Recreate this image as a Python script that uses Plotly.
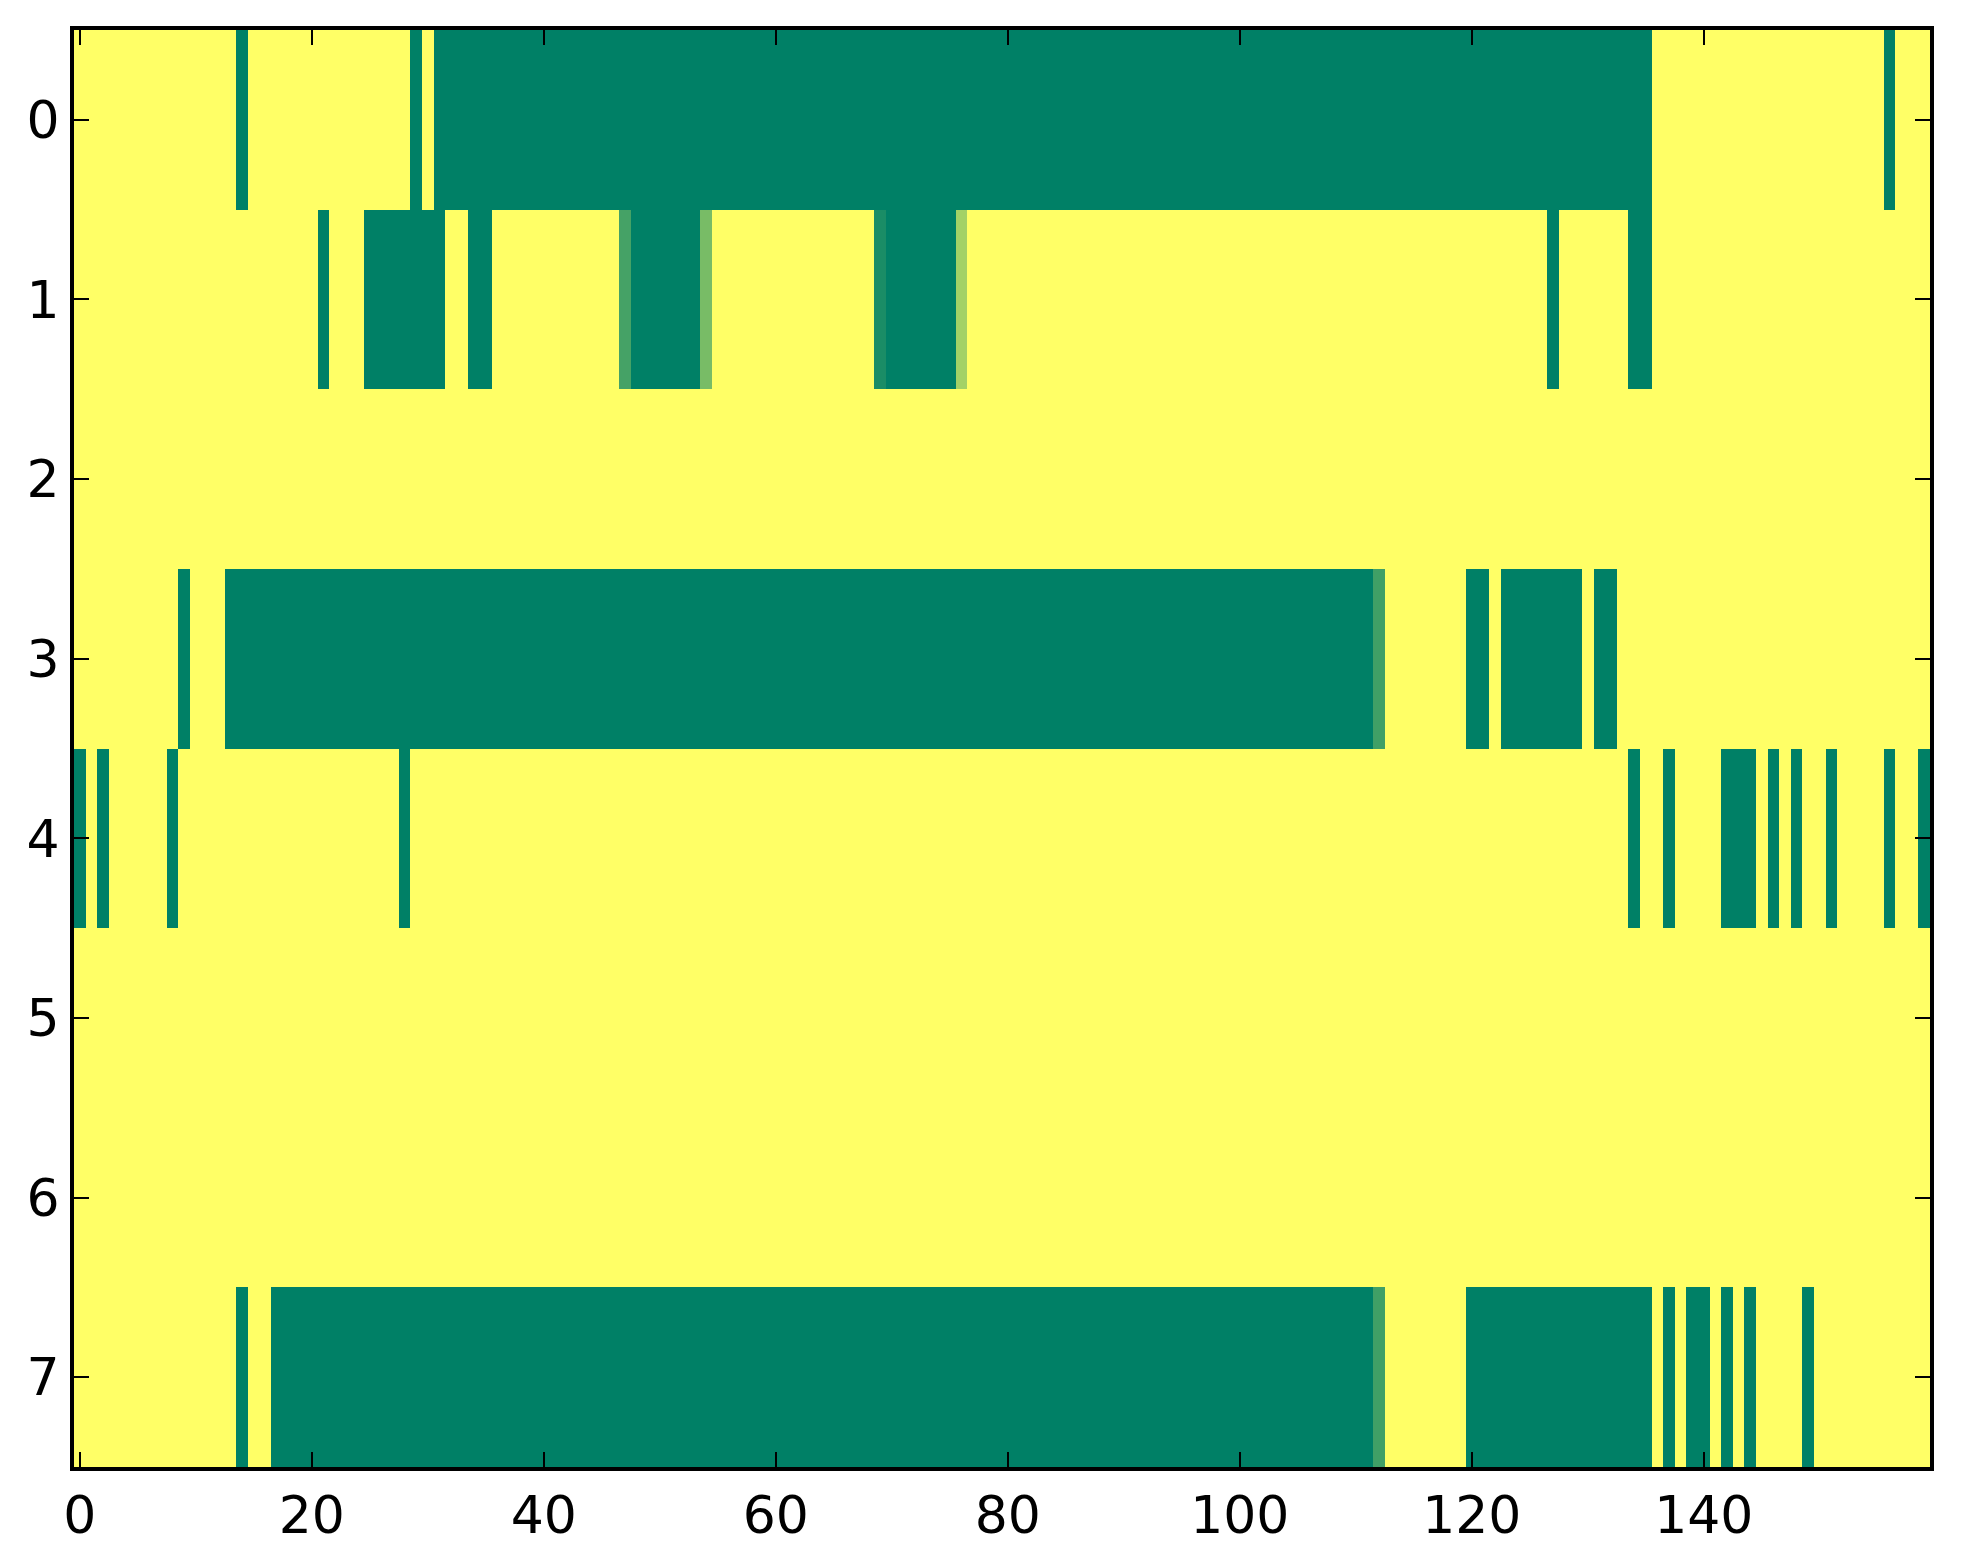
import plotly.graph_objects as go

# each row of the grid, written 10 cells per chunk (160 cells)
# '1' = yellow, '0' = green, letters = in-between shades (see shade_values)
row_0 = ("1111111111" "1111011111" "1111111110" "1000000000"
         "0000000000" "0000000000" "0000000000" "0000000000"
         "0000000000" "0000000000" "0000000000" "0000000000"
         "0000000000" "0000001111" "1111111111" "1111110111")
row_1 = ("1111111111" "1111111111" "1011100000" "0011001111"
         "1111111a00" "0000b11111" "111111111c" "000000d111"
         "1111111111" "1111111111" "1111111111" "1111111111"
         "1111111011" "1111001111" "1111111111" "1111111111")
row_2 = ("1111111111" "1111111111" "1111111111" "1111111111"
         "1111111111" "1111111111" "1111111111" "1111111111"
         "1111111111" "1111111111" "1111111111" "1111111111"
         "1111111111" "1111111111" "1111111111" "1111111111")
row_3 = ("1111111110" "1110000000" "0000000000" "0000000000"
         "0000000000" "0000000000" "0000000000" "0000000000"
         "0000000000" "0000000000" "0000000000" "00e1111111"
         "0010000000" "1001111111" "1111111111" "1111111111")
row_4 = ("0101111101" "1111111111" "1111111101" "1111111111"
         "1111111111" "1111111111" "1111111111" "1111111111"
         "1111111111" "1111111111" "1111111111" "1111111111"
         "1111111111" "1111011011" "1100010101" "1011110110")
row_5 = row_2
row_6 = row_2
row_7 = ("1111111111" "1111011000" "0000000000" "0000000000"
         "0000000000" "0000000000" "0000000000" "0000000000"
         "0000000000" "0000000000" "0000000000" "00e1111111"
         "0000000000" "0000001010" "0101011110" "1111111111")

shade_values = {"0": 0.0, "1": 1.0, "a": 0.27, "b": 0.47, "c": 0.1, "d": 0.64, "e": 0.25}

x_tick_vals = [0, 20, 40, 60, 80, 100, 120, 140]
y_tick_vals = [0, 1, 2, 3, 4, 5, 6, 7]

rows = [row_0, row_1, row_2, row_3, row_4, row_5, row_6, row_7]
z = [[shade_values[ch] for ch in "".join(r)] for r in rows]

# matplotlib "summer" colormap
summer = [[0.0, "rgb(0,128,102)"], [1.0, "rgb(255,255,102)"]]

fig = go.Figure()
fig.add_trace(go.Heatmap(
    z=z,
    colorscale=summer,
    zmin=0,
    zmax=1,
    showscale=False,
    hoverinfo="skip",
))

axis_style = dict(
    ticks="inside",
    ticklen=15,
    tickwidth=2,
    tickcolor="black",
    showline=True,
    linewidth=4,
    linecolor="black",
    mirror="ticks",
    showgrid=False,
    zeroline=False,
    tickfont=dict(family="DejaVu Sans", size=52, color="black"),
)

fig.update_xaxes(range=[-0.5, 159.5], tickvals=x_tick_vals,
                 ticktext=[str(v) for v in x_tick_vals], **axis_style)
fig.update_yaxes(range=[7.5, -0.5], tickvals=y_tick_vals,
                 ticktext=[str(v) for v in y_tick_vals], **axis_style)

# page body adds an 8px margin, so the figure is a bit smaller than the window
fig.update_layout(
    width=1947,
    height=1548,
    margin=dict(l=66, r=25, t=22, b=89),
    paper_bgcolor="white",
    plot_bgcolor="white",
    font=dict(family="DejaVu Sans", color="black"),
)

fig.write_html("out.html")
